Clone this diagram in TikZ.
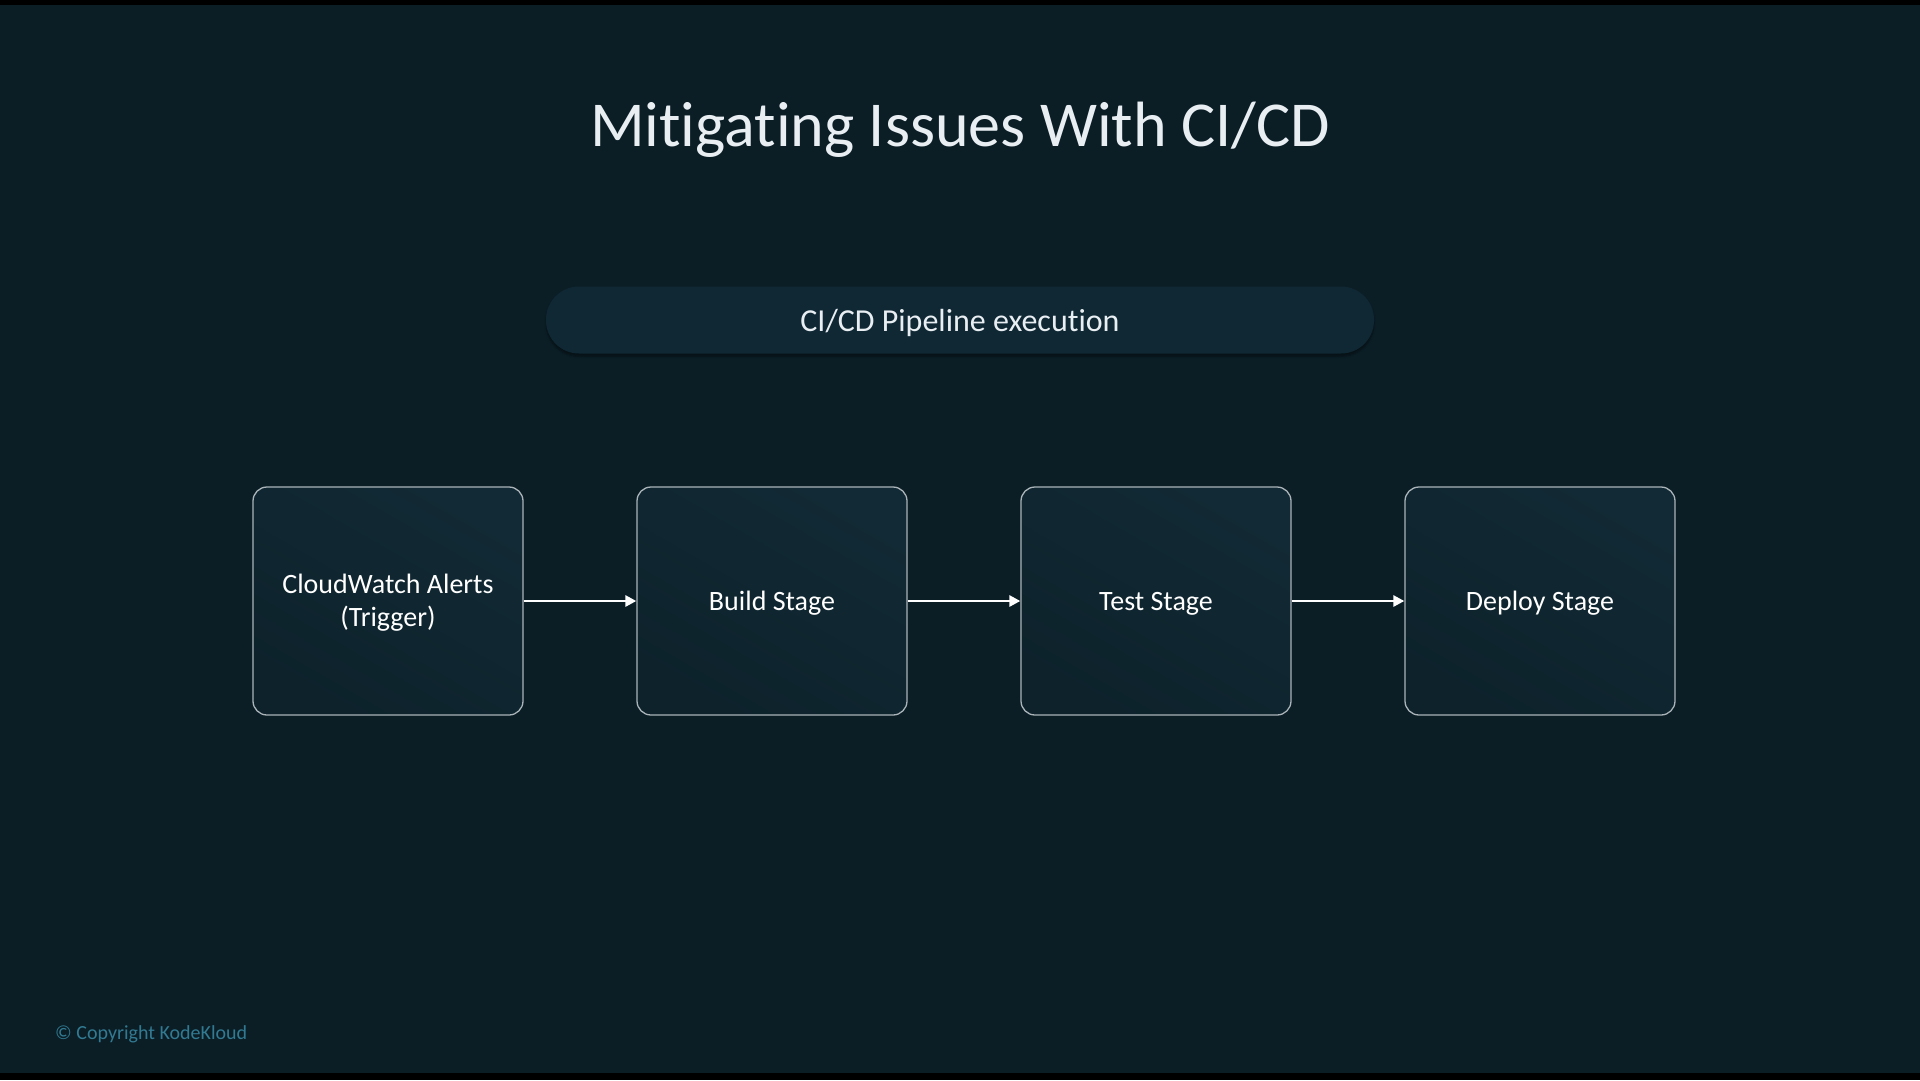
\documentclass[tikz,border=0pt]{standalone}
\usepackage{fontspec}
\setmainfont{Carlito}[Ligatures=NoCommon]
\usetikzlibrary{arrows.meta,shadows.blur}
\definecolor{bgc}{RGB}{11,30,38}
\definecolor{pillc}{RGB}{15,40,52}
\definecolor{boxtop}{RGB}{18,42,53}
\definecolor{boxbot}{RGB}{13,34,43}
\definecolor{edgec}{RGB}{170,180,184}
\definecolor{titlec}{RGB}{232,238,242}
\definecolor{copyc}{RGB}{50,122,146}
\tikzset{
  stagebox/.style={draw=edgec, line width=1.3pt, rounded corners=14pt,
    minimum width=270pt, minimum height=228pt, inner sep=0pt,
    top color=boxtop, bottom color=boxbot, shading angle=-30},
  stagetext/.style={text=white, font=\fontsize{28}{33}\selectfont, align=center, inner sep=0pt},
  flow/.style={draw=white, line width=2.8pt, -{Triangle[length=11pt,width=11pt]}},
  pill/.style={fill=pillc, rounded corners=33pt, minimum width=828pt, minimum height=67pt,
    inner sep=0pt, blur shadow={shadow xshift=0pt, shadow yshift=-3pt, shadow blur steps=6, shadow opacity=40}},
}
\begin{document}
\begin{tikzpicture}[x=1pt,y=-1pt]
\fill[bgc] (0,0) rectangle (1920,1080);
\useasboundingbox (0,0) rectangle (1920,1080);
\fill[black] (0,0) rectangle (1920,5);
\fill[black] (0,1073) rectangle (1920,1080);

\node[anchor=base, text=titlec, font=\fontsize{64}{70}\selectfont] (title) at (960,146) {Mitigating Issues With CI/CD};

\node[pill] (pipe) at (960,320) {};
\node[anchor=base, text=titlec, font=\fontsize{32}{36}\selectfont] (pipetext) at (960,331) {CI/CD Pipeline execution};

\node[stagebox] (cw) at (388,601) {};
\node[stagebox] (build) at (772,601) {};
\node[stagebox] (test) at (1156,601) {};
\node[stagebox] (deploy) at (1540,601) {};

\node[stagetext] (cwt) at (388,603) {CloudWatch Alerts\\(Trigger)};
\node[stagetext, anchor=base] (buildt) at (772,610) {Build Stage};
\node[stagetext, anchor=base] (testt) at (1156,610) {Test Stage};
\node[stagetext, anchor=base] (deployt) at (1540,610) {Deploy Stage};

\draw[flow] (cw.east) -- (build.west);
\draw[flow] (build.east) -- (test.west);
\draw[flow] (test.east) -- (deploy.west);

\node[anchor=base west, text=copyc, font=\fontsize{20}{24}\selectfont, inner sep=0pt] (copy) at (55,1039) {© Copyright KodeKloud};
\end{tikzpicture}
\end{document}
